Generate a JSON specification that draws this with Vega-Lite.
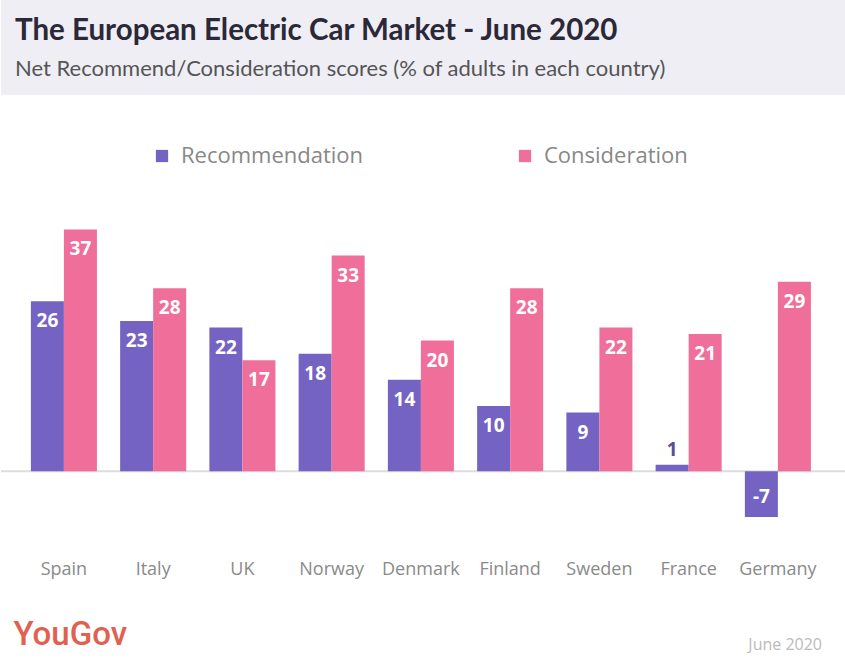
{
  "$schema": "https://vega.github.io/schema/vega-lite/v6.json",
  "background": "white",
  "padding": 0,
  "spacing": 105,
  "config": {"view": {"stroke": null}, "font": "Open Sans"},
  "vconcat": [
    {
      "width": 845,
      "height": 95,
      "view": {"fill": "#efeef5", "stroke": null},
      "title": {
        "text": "The European Electric Car Market - June 2020",
        "subtitle": "Net Recommend/Consideration scores (% of adults in each country)",
        "anchor": "start",
        "dx": 14,
        "offset": -81,
        "font": "Lato",
        "fontSize": 29.5,
        "fontWeight": "bold",
        "color": "#2b2838",
        "subtitleFont": "Lato",
        "subtitleFontSize": 22,
        "subtitleColor": "#555555",
        "subtitlePadding": 13
      },
      "data": {"values": [{}]},
      "mark": {"type": "point", "opacity": 0}
    },
    {
      "width": 845,
      "height": 340,
      "data": {
        "values": [
          {"country": "Spain", "measure": "Recommendation", "value": 26},
          {"country": "Spain", "measure": "Consideration", "value": 37},
          {"country": "Italy", "measure": "Recommendation", "value": 23},
          {"country": "Italy", "measure": "Consideration", "value": 28},
          {"country": "UK", "measure": "Recommendation", "value": 22},
          {"country": "UK", "measure": "Consideration", "value": 17},
          {"country": "Norway", "measure": "Recommendation", "value": 18},
          {"country": "Norway", "measure": "Consideration", "value": 33},
          {"country": "Denmark", "measure": "Recommendation", "value": 14},
          {"country": "Denmark", "measure": "Consideration", "value": 20},
          {"country": "Finland", "measure": "Recommendation", "value": 10},
          {"country": "Finland", "measure": "Consideration", "value": 28},
          {"country": "Sweden", "measure": "Recommendation", "value": 9},
          {"country": "Sweden", "measure": "Consideration", "value": 22},
          {"country": "France", "measure": "Recommendation", "value": 1},
          {"country": "France", "measure": "Consideration", "value": 21},
          {"country": "Germany", "measure": "Recommendation", "value": -7},
          {"country": "Germany", "measure": "Consideration", "value": 29}
        ]
      },
      "title": {
        "text": "June 2020",
        "orient": "bottom",
        "anchor": "end",
        "dx": -25,
        "offset": -14,
        "fontSize": 16,
        "fontWeight": "normal",
        "color": "#bbbbbb"
      },
      "layer": [
        {
          "data": {"values": [{}]},
          "mark": {"type": "rule", "color": "#dddddd", "strokeWidth": 2},
          "encoding": {"y": {"datum": 0, "type": "quantitative", "scale": {"domain": [-10.5, 41.5], "nice": false}, "axis": null}}
        },
        {
          "mark": {"type": "bar"},
          "encoding": {
            "x": {
              "field": "country", "type": "nominal", "sort": null,
              "scale": {"paddingInner": 0.26, "paddingOuter": 0.364, "align": 0.46},
              "axis": {
                "title": "YouGov",
                "domain": false, "ticks": false,
                "labelAngle": 0, "labelFontSize": 18, "labelColor": "#8a8a8a",
                "labelPadding": 29, "labelBaseline": "middle",
                "titleAnchor": "start", "titleAlign": "left", "titleX": 12,
                "titleFont": "Roboto", "titleFontSize": 33, "titleFontWeight": 500,
                "titleColor": "#e0614f", "titlePadding": 40
              }
            },
            "xOffset": {"field": "measure", "sort": ["Recommendation", "Consideration"]},
            "y": {"field": "value", "type": "quantitative", "scale": {"domain": [-10.5, 41.5], "nice": false}, "axis": null},
            "color": {
              "field": "measure", "type": "nominal",
              "scale": {"domain": ["Recommendation", "Consideration"], "range": ["#7563c4", "#ef6f9a"]},
              "legend": {
                "title": null, "orient": "none", "legendX": 150, "legendY": 145,
                "direction": "horizontal", "columns": 2, "columnPadding": 150,
                "symbolType": "square", "symbolSize": 150, "symbolStrokeWidth": 0,
                "labelFontSize": 22, "labelColor": "#888888", "labelOffset": 8, "labelLimit": 400
              }
            }
          }
        },
        {
          "transform": [{"filter": "datum.value >= 5"}],
          "mark": {"type": "text", "baseline": "middle", "dy": 20, "color": "white", "fontSize": 19, "fontWeight": "bold"},
          "encoding": {
            "x": {"field": "country", "type": "nominal", "sort": null},
            "xOffset": {"field": "measure", "sort": ["Recommendation", "Consideration"]},
            "y": {"field": "value", "type": "quantitative"},
            "text": {"field": "value"}
          }
        },
        {
          "transform": [{"filter": "datum.value >= 0 && datum.value < 5"}],
          "mark": {"type": "text", "baseline": "middle", "dy": -15, "color": "#5a4d93", "fontSize": 19, "fontWeight": "bold"},
          "encoding": {
            "x": {"field": "country", "type": "nominal", "sort": null},
            "xOffset": {"field": "measure", "sort": ["Recommendation", "Consideration"]},
            "y": {"field": "value", "type": "quantitative"},
            "text": {"field": "value"}
          }
        },
        {
          "transform": [{"filter": "datum.value < 0"}],
          "mark": {"type": "text", "baseline": "middle", "dy": 26, "color": "white", "fontSize": 19, "fontWeight": "bold"},
          "encoding": {
            "x": {"field": "country", "type": "nominal", "sort": null},
            "xOffset": {"field": "measure", "sort": ["Recommendation", "Consideration"]},
            "y": {"datum": 0, "type": "quantitative"},
            "text": {"field": "value"}
          }
        }
      ],
      "resolve": {"scale": {"y": "shared"}}
    }
  ]
}
